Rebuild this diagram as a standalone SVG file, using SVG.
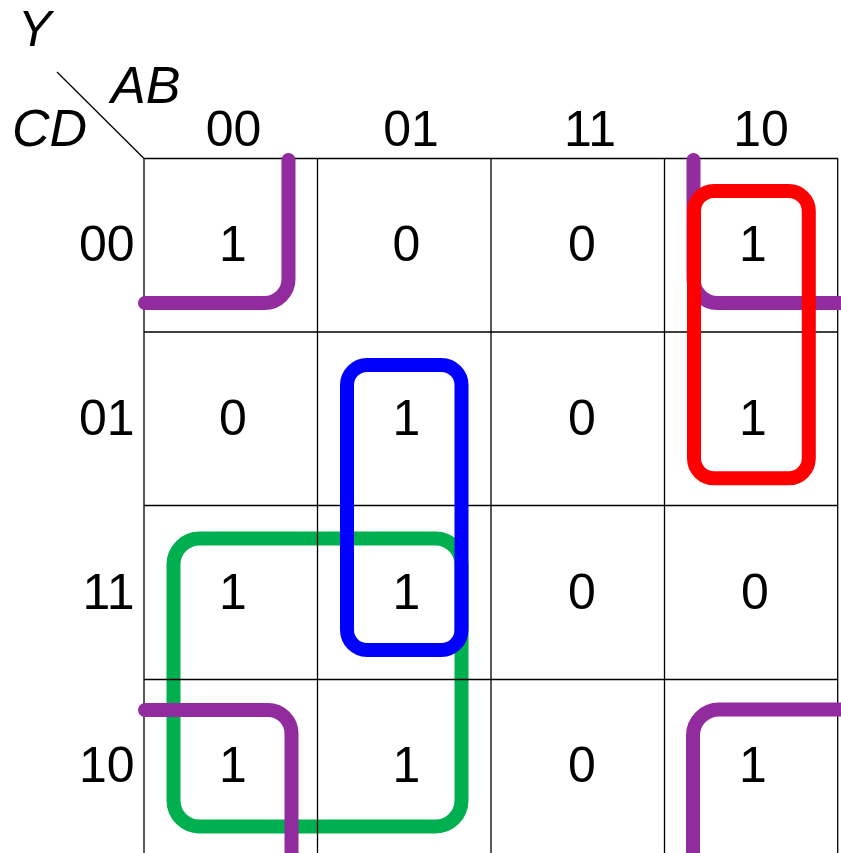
<svg xmlns="http://www.w3.org/2000/svg" width="841" height="853" viewBox="0 0 841 853">
<style>
  .t { font-family: "Liberation Sans", Arial, sans-serif; font-size: 50px; fill: #000; }
  .c { text-anchor: middle; }
  .r { text-anchor: end; }
  .i { font-style: italic; font-size: 52px; }
  .grid { stroke: #000; stroke-width: 1.3; fill: none; }
  .loop { fill: none; stroke-width: 14; stroke-linecap: round; stroke-linejoin: round; }
</style>
<rect width="841" height="853" fill="#fff"/>
<g id="green-group">
  <rect class="loop" x="173.5" y="538.5" width="288" height="288" rx="26" ry="26" stroke="#00B050"/>
</g>
<g id="grid">
  <line class="grid" x1="57" y1="72" x2="144" y2="158.5"/>
  <line class="grid" x1="144" y1="158.5" x2="838" y2="158.5"/>
  <line class="grid" x1="144" y1="332" x2="838" y2="332"/>
  <line class="grid" x1="144" y1="505.5" x2="838" y2="505.5"/>
  <line class="grid" x1="144" y1="679.5" x2="838" y2="679.5"/>
  <line class="grid" x1="144" y1="158.5" x2="144" y2="853"/>
  <line class="grid" x1="317.5" y1="158.5" x2="317.5" y2="853"/>
  <line class="grid" x1="491" y1="158.5" x2="491" y2="853"/>
  <line class="grid" x1="664.5" y1="158.5" x2="664.5" y2="853"/>
  <line class="grid" x1="837.7" y1="158.5" x2="837.7" y2="853"/>
</g>
<g id="labels">
  <text class="t i" x="18" y="46" style="font-size:50px">Y</text>
  <text class="t i" x="111" y="103">AB</text>
  <text class="t i" x="12" y="146">CD</text>
  <text class="t c" x="233.5" y="145.5">00</text>
  <text class="t c" x="411" y="145.5">01</text>
  <text class="t c" x="590" y="145.5">11</text>
  <text class="t c" x="761" y="145.5">10</text>
  <text class="t r" x="134.5" y="261">00</text>
  <text class="t r" x="134.5" y="435">01</text>
  <text class="t r" x="134.5" y="608.5">11</text>
  <text class="t r" x="134.5" y="782">10</text>
</g>
<g id="cells">
  <text class="t c" x="233" y="261">1</text>
  <text class="t c" x="406.5" y="261">0</text>
  <text class="t c" x="582" y="261">0</text>
  <text class="t c" x="753" y="261">1</text>
  <text class="t c" x="233" y="435">0</text>
  <text class="t c" x="406.5" y="435">1</text>
  <text class="t c" x="582" y="435">0</text>
  <text class="t c" x="753" y="435">1</text>
  <text class="t c" x="233" y="608.5">1</text>
  <text class="t c" x="406.5" y="608.5">1</text>
  <text class="t c" x="582" y="608.5">0</text>
  <text class="t c" x="755" y="608.5">0</text>
  <text class="t c" x="233" y="782">1</text>
  <text class="t c" x="406.5" y="782">1</text>
  <text class="t c" x="582" y="782">0</text>
  <text class="t c" x="753" y="782">1</text>
</g>
<g id="purple-group">
  <path class="loop" stroke="#922B9E" d="M 288.5 160 V 279 A 24 24 0 0 1 264.5 303 H 145"/>
  <path class="loop" stroke="#922B9E" d="M 693.5 160 V 279 A 24 24 0 0 0 717.5 303 H 845"/>
  <path class="loop" stroke="#922B9E" d="M 145 710 H 268 A 23.5 23.5 0 0 1 291.5 733.5 V 860"/>
  <path class="loop" stroke="#922B9E" d="M 845 709.5 H 719 A 26 26 0 0 0 693 735.5 V 860"/>
</g>
<g id="blue-group">
  <rect class="loop" x="347" y="365" width="114.5" height="285" rx="20" ry="20" stroke="#0000FF"/>
</g>
<g id="red-group">
  <rect class="loop" x="694" y="191" width="114.8" height="287.3" rx="20" ry="20" stroke="#FF0000"/>
</g>
</svg>
